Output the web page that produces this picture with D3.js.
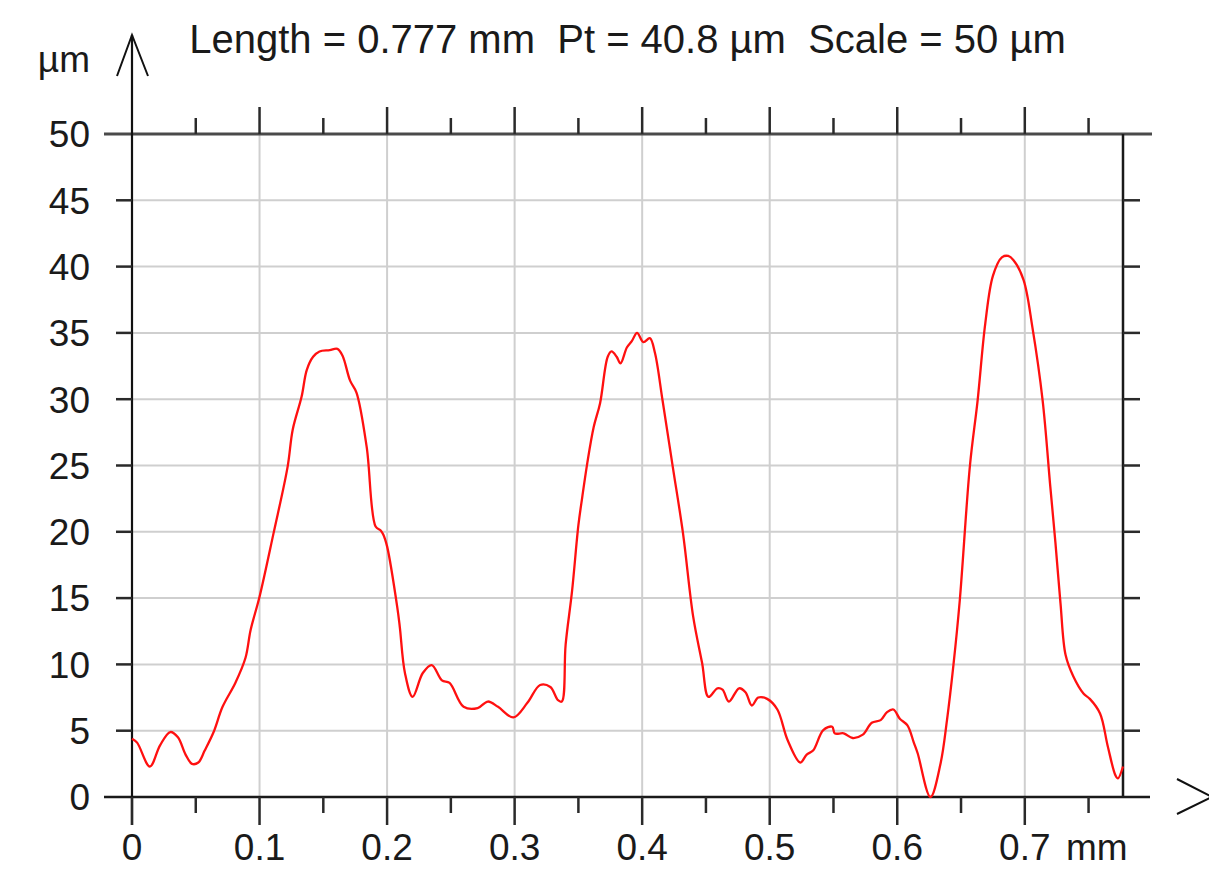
<!DOCTYPE html>
<html>
<head>
<meta charset="utf-8">
<script src="https://cdn.jsdelivr.net/npm/d3@7"></script>
<style>
  html, body { margin: 0; padding: 0; background: #fff; }
  svg text { font-family: "Liberation Sans", Arial, sans-serif; fill: #1a1a1a; }
</style>
</head>
<body>
<svg id="chart" width="1209" height="869"></svg>
<script>
// Profile trace: horizontal position (mm) and height (µm)
const positionMm = [
  0.000, 0.004, 0.014, 0.022, 0.030, 0.036, 0.042, 0.047, 0.052, 0.057,
  0.064, 0.071, 0.081, 0.089, 0.093, 0.100, 0.111, 0.122, 0.126, 0.133,
  0.137, 0.142, 0.147, 0.155, 0.161, 0.165, 0.171, 0.176, 0.184, 0.191,
  0.195, 0.197, 0.200, 0.208, 0.210, 0.214, 0.220, 0.228, 0.235, 0.243,
  0.249, 0.260, 0.271, 0.279, 0.287, 0.299, 0.310, 0.320, 0.328, 0.334,
  0.337, 0.340, 0.345, 0.350, 0.353, 0.357, 0.362, 0.367, 0.373, 0.376,
  0.380, 0.383, 0.388, 0.392, 0.396, 0.401, 0.406, 0.410, 0.416, 0.424,
  0.432, 0.440, 0.447, 0.452, 0.459, 0.463, 0.468, 0.476, 0.481, 0.486,
  0.491, 0.498, 0.506, 0.514, 0.524, 0.529, 0.534, 0.542, 0.549, 0.551,
  0.558, 0.565, 0.573, 0.580, 0.587, 0.592, 0.597, 0.602, 0.608, 0.613,
  0.616, 0.626, 0.634, 0.639, 0.644, 0.649, 0.657, 0.663, 0.669, 0.675,
  0.682, 0.687, 0.691, 0.699, 0.706, 0.714, 0.720, 0.724, 0.728, 0.732,
  0.738, 0.746, 0.751, 0.759, 0.765, 0.771, 0.773, 0.777
];
const heightUm = [
  4.4, 4.1, 2.3, 3.9, 4.9, 4.5, 3.2, 2.5, 2.6, 3.5,
  4.9, 6.8, 8.6, 10.5, 12.6, 15.1, 19.9, 24.9, 27.7, 30.2,
  32.2, 33.2, 33.6, 33.7, 33.8, 33.3, 31.4, 30.5, 26.4, 20.4,
  20.1, 19.8, 18.9, 14.3, 12.8, 9.35, 7.55, 9.35, 9.95, 8.8,
  8.6, 6.8, 6.7, 7.2, 6.8, 6.0, 7.1, 8.45, 8.3, 7.3,
  7.2, 11.5, 15.5, 20.5, 22.6, 25.2, 27.9, 29.7, 33.2, 33.6,
  33.2, 32.7, 33.9, 34.4, 35.0, 34.3, 34.6, 33.5, 29.9, 24.9,
  19.9, 13.6, 10.1, 7.55, 8.2, 8.1, 7.2, 8.2, 7.9, 6.9,
  7.5, 7.4, 6.6, 4.3, 2.6, 3.2, 3.5, 5.05, 5.3, 4.8,
  4.8, 4.45, 4.7, 5.6, 5.8, 6.4, 6.6, 5.9, 5.4, 4.1,
  3.3, 0.0, 2.55, 5.8, 9.9, 14.8, 25.0, 29.9, 35.7, 39.3,
  40.7, 40.8, 40.5, 39.0, 35.4, 29.9, 23.4, 19.2, 14.6, 10.7,
  9.1, 7.8, 7.4, 6.3, 3.85, 1.65, 1.4, 2.3
];

// Axis ticks and labels
const xMajorTicks = [0, 0.1, 0.2, 0.3, 0.4, 0.5, 0.6, 0.7];
const xMinorTicks = [0.05, 0.15, 0.25, 0.35, 0.45, 0.55, 0.65, 0.75];
const xTickLabels = ["0", "0.1", "0.2", "0.3", "0.4", "0.5", "0.6", "0.7"];
const yTicks = [0, 5, 10, 15, 20, 25, 30, 35, 40, 45, 50];
const yTickLabels = ["0", "5", "10", "15", "20", "25", "30", "35", "40", "45", "50"];
const titleText = "Length = 0.777 mm  Pt = 40.8 µm  Scale = 50 µm";
const xUnit = "mm";
const yUnit = "µm";
const profileLength = 0.777;
const profileScale = 50;

const svg = d3.select("#chart");
const plotLeft = 132, plotRight = 1123, plotTop = 134, plotBottom = 797;
const FONT = 37;
const TITLE_FONT = 40;

const x = d3.scaleLinear().domain([0, profileLength]).range([plotLeft, plotRight]);
const y = d3.scaleLinear().domain([0, profileScale]).range([plotBottom, plotTop]);

// Grid
const grid = svg.append("g").attr("stroke", "#cfcfcf").attr("stroke-width", 2);
grid.selectAll("line.v").data(xMajorTicks.filter(d => d > 0)).join("line")
  .attr("x1", d => x(d)).attr("x2", d => x(d))
  .attr("y1", plotTop).attr("y2", plotBottom);
grid.selectAll("line.h").data(yTicks.filter(d => d > 0 && d < profileScale)).join("line")
  .attr("x1", plotLeft).attr("x2", plotRight)
  .attr("y1", d => y(d)).attr("y2", d => y(d));

// Frame lines
const frame = svg.append("g").attr("fill", "none");
frame.append("line").attr("x1", 104).attr("x2", 1152).attr("y1", y(profileScale)).attr("y2", y(profileScale))
  .attr("stroke", "#4a4a4a").attr("stroke-width", 3);
frame.append("line").attr("x1", 104).attr("x2", 1150).attr("y1", y(0)).attr("y2", y(0))
  .attr("stroke", "#1a1a1a").attr("stroke-width", 2.5);
frame.append("line").attr("x1", x(profileLength)).attr("x2", x(profileLength)).attr("y1", plotTop).attr("y2", plotBottom)
  .attr("stroke", "#1a1a1a").attr("stroke-width", 2.5);
frame.append("line").attr("x1", x(0)).attr("x2", x(0)).attr("y1", 35).attr("y2", 825)
  .attr("stroke", "#111").attr("stroke-width", 2.2);

// Arrow heads
frame.append("path").attr("d", "M117,76 L132,35 L148,76").attr("stroke", "#111").attr("stroke-width", 2);
frame.append("path").attr("d", "M1177,779 L1212,797 L1177,814").attr("stroke", "#111").attr("stroke-width", 2);

// Ticks
const ticks = svg.append("g").attr("stroke", "#2a2a2a").attr("stroke-width", 2.5);
ticks.selectAll("line.tM").data(xMajorTicks.filter(d => d > 0)).join("line")
  .attr("x1", d => x(d)).attr("x2", d => x(d)).attr("y1", plotTop).attr("y2", plotTop - 27);
ticks.selectAll("line.tm").data(xMinorTicks).join("line")
  .attr("x1", d => x(d)).attr("x2", d => x(d)).attr("y1", plotTop).attr("y2", plotTop - 16);
ticks.selectAll("line.bM").data(xMajorTicks).join("line")
  .attr("x1", d => x(d)).attr("x2", d => x(d)).attr("y1", plotBottom).attr("y2", plotBottom + 28);
ticks.selectAll("line.bm").data(xMinorTicks).join("line")
  .attr("x1", d => x(d)).attr("x2", d => x(d)).attr("y1", plotBottom).attr("y2", plotBottom + 16);
ticks.selectAll("line.l").data(yTicks.filter(d => d > 0 && d < profileScale)).join("line")
  .attr("x1", plotLeft - 16).attr("x2", plotLeft).attr("y1", d => y(d)).attr("y2", d => y(d));
ticks.selectAll("line.r").data(yTicks.filter(d => d > 0 && d < profileScale)).join("line")
  .attr("x1", plotRight).attr("x2", plotRight + 17).attr("y1", d => y(d)).attr("y2", d => y(d));

// Tick labels
svg.append("g").selectAll("text").data(yTicks).join("text")
  .attr("x", 90).attr("y", d => y(d)).attr("dy", "0.36em")
  .attr("text-anchor", "end").attr("font-size", FONT)
  .text((d, i) => yTickLabels[i]);
svg.append("g").selectAll("text").data(xMajorTicks).join("text")
  .attr("x", d => x(d)).attr("y", 860)
  .attr("text-anchor", "middle").attr("font-size", FONT)
  .text((d, i) => xTickLabels[i]);
svg.append("text").attr("x", 1066).attr("y", 860).attr("font-size", FONT).text(xUnit);
svg.append("text").attr("x", 90).attr("y", 72).attr("text-anchor", "end").attr("font-size", FONT).text(yUnit);

// Title
svg.append("text").attr("x", (plotLeft + plotRight) / 2).attr("y", 53)
  .attr("text-anchor", "middle").attr("font-size", TITLE_FONT)
  .style("white-space", "pre")
  .text(titleText);

// Profile
const pts = positionMm.map((p, i) => [p, heightUm[i]]);
svg.append("path").datum(pts)
  .attr("fill", "none").attr("stroke", "#ff1010").attr("stroke-width", 2.3)
  .attr("stroke-linejoin", "round")
  .attr("d", d3.line().x(d => x(d[0])).y(d => y(d[1])).curve(d3.curveCatmullRom.alpha(0.5)));
</script>
</body>
</html>
